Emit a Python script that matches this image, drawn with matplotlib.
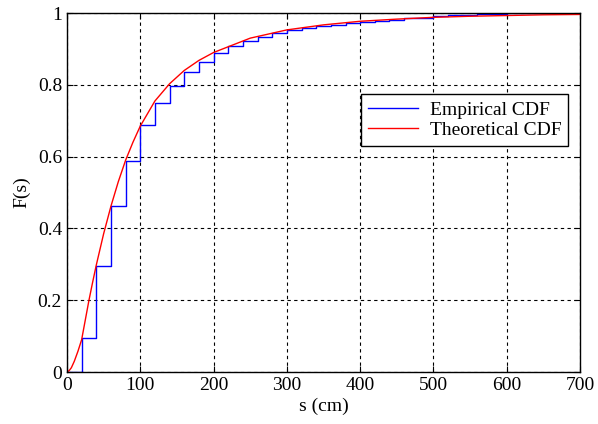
import numpy as np
import matplotlib
matplotlib.use("Agg")
import matplotlib.pyplot as plt

plt.rcParams["font.family"] = ["Liberation Serif", "DejaVu Serif"]

# empirical CDF: step positions (cm) and levels
emp_s = [0, 20, 40, 60, 80, 100, 120, 140, 160, 180, 200, 220, 240, 260, 280,
         300, 320, 340, 360, 380, 400, 420, 440, 460, 480, 500, 520, 540, 560,
         580, 600, 700]
emp_f = [0.0, 0.094, 0.295, 0.463, 0.588, 0.688, 0.749, 0.797, 0.835, 0.863,
         0.890, 0.909, 0.923, 0.934, 0.944, 0.953, 0.959, 0.963, 0.968, 0.972,
         0.975, 0.977, 0.980, 0.985, 0.987, 0.992, 0.994, 0.995, 0.997, 0.998,
         1.0, 1.0]

# theoretical CDF sampled off the red curve
th_s = [0, 3, 6, 10, 15, 20, 25, 30, 35, 40, 50, 60, 70, 80, 90, 100, 120, 140,
        160, 180, 200, 250, 300, 350, 400, 450, 500, 550, 600, 650, 700]
th_f = [0.0, 0.004, 0.012, 0.030, 0.058, 0.090, 0.145, 0.200, 0.250, 0.298,
        0.385, 0.462, 0.530, 0.590, 0.640, 0.685, 0.755, 0.803, 0.840, 0.868,
        0.890, 0.930, 0.953, 0.967, 0.977, 0.983, 0.988, 0.991, 0.993, 0.995,
        0.996]

fig = plt.figure(figsize=(5.98, 4.24), dpi=100)
ax = fig.add_axes([0.112, 0.1226, 0.858, 0.8467])

ax.step(emp_s, emp_f, where="post", color="blue", lw=1.0, label="Empirical CDF")
ax.plot(th_s, th_f, color="red", lw=1.0, label="Theoretical CDF")

ax.set_xlim(0, 700)
ax.set_ylim(0, 1)
ax.set_xticks(np.arange(0, 701, 100))
ax.set_yticks([0, 0.2, 0.4, 0.6, 0.8, 1])
ax.set_yticklabels(["0", "0.2", "0.4", "0.6", "0.8", "1"])
ax.grid(True, color="black", linestyle=(0, (3, 3)), lw=0.8)
ax.tick_params(direction="in", top=True, right=True, labelsize=14, length=4)
for sp in ax.spines.values():
    sp.set_linewidth(1.0)

ax.set_xlabel("s (cm)", fontsize=14, labelpad=3)
ax.set_ylabel("F(s)", fontsize=14, labelpad=5)

leg = ax.legend(loc="upper right", bbox_to_anchor=(0.977, 0.774), fontsize=14,
                fancybox=False, framealpha=1, edgecolor="black",
                borderaxespad=0, handlelength=2.6, handletextpad=0.6,
                borderpad=0.35, labelspacing=0.15)
leg.get_frame().set_linewidth(1.0)

fig.savefig("out.png", dpi=100)
